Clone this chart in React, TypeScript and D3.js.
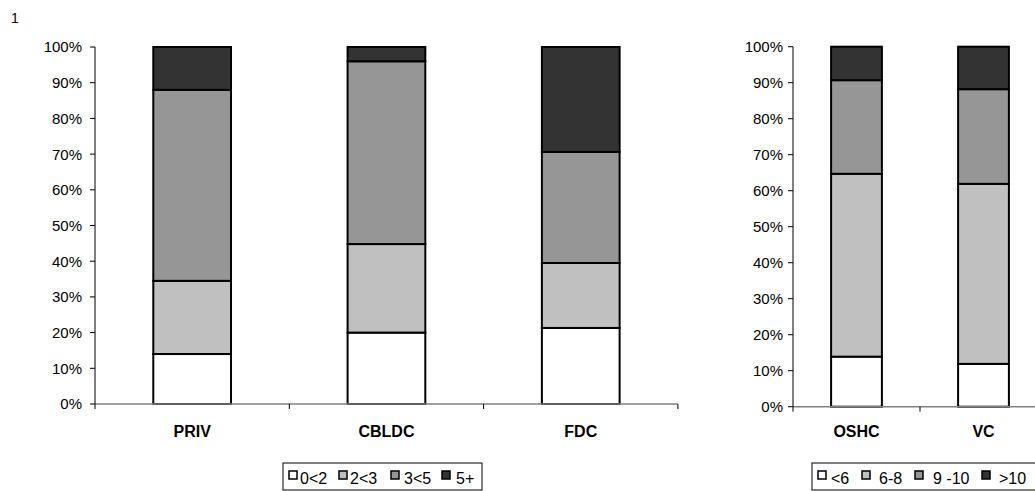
import React from 'react';
import * as d3 from 'd3';

const leftCategories = ['PRIV', 'CBLDC', 'FDC'];
const leftSeries = ['0<2', '2<3', '3<5', '5+'];
const leftValues = [
  [14.0, 20.5, 53.5, 12.0],
  [20.0, 24.8, 51.2, 4.0],
  [21.3, 18.2, 31.1, 29.4],
];

const rightCategories = ['OSHC', 'VC'];
const rightSeries = ['<6', '6-8', '9 -10', '>10'];
const rightValues = [
  [13.9, 50.8, 26.0, 9.3],
  [11.9, 50.0, 26.3, 11.8],
];

const yTicks = [0, 10, 20, 30, 40, 50, 60, 70, 80, 90, 100];
const colors = ['#ffffff', '#c0c0c0', '#969696', '#333333'];

const FONT = 'Arial, "Liberation Sans", Helvetica, sans-serif';

type PanelProps = {
  categories: string[];
  series: string[];
  values: number[][];
  x0: number;
  bandW: number;
  yTop: number;
  yBottom: number;
  labelGap: number;
  legendX: number;
  legendW: number;
  legendItemX: number[];
  legendTextX: number[];
};

function Panel(p: PanelProps) {
  const x = d3
    .scaleBand<string>()
    .domain(p.categories)
    .range([p.x0, p.x0 + p.bandW * p.categories.length])
    .padding(0);
  const y = d3.scaleLinear().domain([0, 100]).range([p.yBottom, p.yTop]);
  const rows = p.categories.map((c, i) => {
    const r: any = { cat: c };
    p.series.forEach((s, j) => (r[s] = p.values[i][j]));
    return r;
  });
  const stack = d3.stack<any>().keys(p.series)(rows);
  const bw = x.bandwidth() * 0.4;
  const xEnd = p.x0 + p.bandW * p.categories.length;
  const boundaries = d3.range(p.categories.length + 1).map((i) => p.x0 + i * x.bandwidth());
  return (
    <g>
      {stack.map((layer, si) =>
        layer.map((d, ci) => {
          const cx = (x(p.categories[ci]) as number) + x.bandwidth() / 2;
          return (
            <rect
              key={`${si}-${ci}`}
              x={cx - bw / 2}
              y={y(d[1])}
              width={bw}
              height={y(d[0]) - y(d[1])}
              fill={colors[si]}
              stroke="#000"
              strokeWidth={2}
            />
          );
        })
      )}
      {/* x axis */}
      <line x1={p.x0} x2={xEnd} y1={p.yBottom} y2={p.yBottom} stroke="#808080" strokeWidth={1.5} />
      {boundaries.map((bx, i) => (
        <line key={i} x1={bx} x2={bx} y1={p.yBottom} y2={p.yBottom + 5} stroke="#000" strokeWidth={1} />
      ))}
      {/* y axis */}
      <line x1={p.x0} x2={p.x0} y1={p.yTop} y2={p.yBottom} stroke="#000" strokeWidth={1} />
      {yTicks.map((t) => (
        <g key={t}>
          <line x1={p.x0 - 5} x2={p.x0} y1={y(t)} y2={y(t)} stroke="#000" strokeWidth={1} />
          <text
            x={p.x0 - p.labelGap}
            y={y(t)}
            dy="0.36em"
            textAnchor="end"
            fontSize={15}
            fontFamily={FONT}
            fill="#000"
          >
            {t}%
          </text>
        </g>
      ))}
      {p.categories.map((c) => (
        <text
          key={c}
          x={(x(c) as number) + x.bandwidth() / 2}
          y={437}
          textAnchor="middle"
          fontSize={16}
          fontWeight="bold"
          fontFamily={FONT}
          fill="#000"
        >
          {c}
        </text>
      ))}
      {/* legend */}
      <rect x={p.legendX} y={463} width={p.legendW} height={27} fill="#fff" stroke="#000" strokeWidth={1} />
      {p.series.map((s, i) => (
        <g key={s}>
          <rect
            x={p.legendItemX[i]}
            y={471}
            width={8}
            height={8}
            fill={colors[i]}
            stroke="#000"
            strokeWidth={1.5}
          />
          <text x={p.legendTextX[i]} y={484} fontSize={16} fontFamily={FONT} fill="#000">
            {s}
          </text>
        </g>
      ))}
    </g>
  );
}

export default function App() {
  return (
    <svg
      width={1035}
      height={491}
      style={{ position: 'absolute', left: 0, top: 0, background: '#fff' }}
    >
      <text x={11} y={23} fontSize={14} fontFamily={FONT} fill="#000">
        1
      </text>
      <Panel
        categories={leftCategories}
        series={leftSeries}
        values={leftValues}
        x0={95}
        bandW={194.3}
        yTop={47}
        yBottom={404}
        labelGap={13}
        legendX={283}
        legendW={199}
        legendItemX={[289, 339, 391, 442]}
        legendTextX={[300, 350, 404, 456]}
      />
      <Panel
        categories={rightCategories}
        series={rightSeries}
        values={rightValues}
        x0={793}
        bandW={127}
        yTop={46.7}
        yBottom={406.7}
        labelGap={10}
        legendX={812}
        legendW={230}
        legendItemX={[818, 862, 915, 982]}
        legendTextX={[831, 879, 933, 999]}
      />
    </svg>
  );
}
